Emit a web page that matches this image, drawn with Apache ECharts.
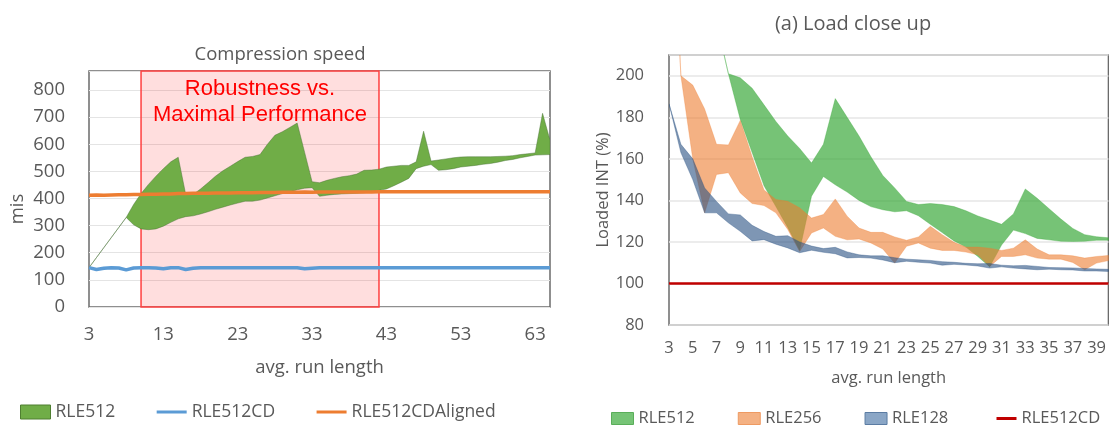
<!DOCTYPE html>
<html><head><meta charset="utf-8">
<script src="https://cdn.jsdelivr.net/npm/echarts@6/dist/echarts.min.js"></script>
<style>html,body{margin:0;padding:0;background:#fff}#c{width:1109px;height:425px}</style>
</head><body><div id="c"></div>
<script>
// ---------- Left chart: Compression speed ----------
const leftCategories = [3,4,5,6,7,8,9,10,11,12,13,14,15,16,17,18,19,20,21,22,23,24,25,26,27,28,29,30,31,32,33,34,35,36,37,38,39,40,41,42,43,44,45,46,47,48,49,50,51,52,53,54,55,56,57,58,59,60,61,62,63,64,65];
const rle512Upper = [145,182,219,256,293,330,378,418,452,482,510,535,552,416,415,435,458,482,502,519,536,552,555,562,600,633,646,662,678,570,462,458,467,474,480,484,490,504,505,508,516,519,522,522,535,648,538,542,546,550,553,554,554,554,554,555,556,558,562,565,568,714,615];
const rle512Lower = [145,182,219,256,293,330,303,288,285,288,298,312,325,333,336,343,351,360,368,376,383,390,390,394,402,410,418,424,432,438,440,408,412,415,417,418,419,421,425,430,435,447,460,474,510,519,525,504,506,510,516,519,522,526,529,534,540,544,550,555,560,561,562];
const rle512CD = [145,138,143,145,144,137,144,145,145,144,141,145,145,138,143,145,145,145,145,145,145,145,145,145,145,145,145,145,145,141,143,145,145,145,145,145,145,145,145,145,145,145,145,145,145,145,145,145,145,145,145,145,145,145,145,145,145,145,145,145,145,145,145];
const rle512CDAligned = [412,413,412,413,414,414,415,415,416,416,417,417,418,418,419,419,419,420,420,420,421,421,421,422,422,422,423,423,423,424,423,424,424,424,424,424,424,424,424,425,425,425,425,425,425,425,425,425,425,425,425,425,425,425,425,425,425,425,425,425,425,425,425];
const highlightRange = ['10','42'];

// ---------- Right chart: (a) Load close up ----------
const rightCategories = [3,4,5,6,7,8,9,10,11,12,13,14,15,16,17,18,19,20,21,22,23,24,25,26,27,28,29,30,31,32,33,34,35,36,37,38,39,40];
const r512Upper = [null,null,null,null,226,201,199,194,186,178,171,165,158,167,189,180,171,161,152,146,139.5,138,138.5,138,137,135,132.5,130.5,128.5,133.5,145.5,141,136,131,126.5,123.5,122.5,122];
const r512Lower = [null,null,null,null,226,201,179,163,147,137,127,116,142,151.5,147.5,144,140,137,135.5,134.5,135,132.6,128.5,124.5,120.5,117.5,113,108,118.5,125.7,124,121.7,121,120.3,120.2,120.3,120.8,120.8];
const r256Upper = [320,200,195.5,184,167,166.7,178.5,161,145,140.4,139.6,136.4,131.5,133.2,140.7,132.4,126.7,124.6,124.6,122.4,120.8,122.4,127.5,123.5,119.8,117.5,117.5,117,115.9,117,121,116.6,113.8,113.8,113.3,112.2,113,113.5];
const r256Lower = [320,200,160,134,152.5,153.3,143.6,138.5,137.5,134,126,115.4,124.3,126.7,122.7,121,121.4,119.5,116.6,109.8,117.9,119.5,117,115.9,115.9,115.1,113.8,108.2,113,113,113.8,112.2,111.7,111.7,110.1,106.6,109.8,111];
const r128Upper = [186.5,167,160,146,139.5,133.5,133,128,125,122.7,123,120,118,116.8,117.4,115.2,113.8,113.3,113.3,112.4,111.7,111.4,111.1,110.5,110.2,109.7,109.5,109.6,108.8,108.5,108.7,108.2,107.7,107.6,107.5,107.2,107,106.8];
const r128Lower = [186.5,163,150,134,134,129.2,125.1,120.5,121.1,118.9,117.1,114.8,116,115,114.3,112.3,112.5,112.2,111.3,110,110.7,110.2,109.8,108.8,109.2,108.9,108.4,107.4,108,107.4,107,106.6,106.9,106.6,106.5,106,106,105.8];
const r512CD = rightCategories.map(() => 100);

const FONT = 'Open Sans';
const GREY = '#595959';

function band(name, axisIdx, cats, upper, lower, fill, stroke, lw, z) {
  const first = upper.findIndex(v => v != null);
  return {
    type: 'custom', name, xAxisIndex: axisIdx, yAxisIndex: axisIdx, clip: true, z,
    itemStyle: { color: fill },
    encode: { x: 0, y: [1, 2] },
    data: cats.map((c, i) => [i, upper[i] == null ? NaN : upper[i], lower[i] == null ? NaN : lower[i]]),
    renderItem(params, api) {
      if (params.dataIndexInside !== first) return;
      const n = params.dataInsideLength;
      const top = [], bot = [];
      for (let i = 0; i < n; i++) {
        const x = api.value(0, i), u = api.value(1, i), l = api.value(2, i);
        if (isNaN(u) || isNaN(l)) continue;
        top.push(api.coord([x, u]));
        bot.push(api.coord([x, l]));
      }
      return { type: 'polygon', shape: { points: top.concat(bot.reverse()) },
        style: { fill, stroke, lineWidth: lw } };
    }
  };
}

const chart = echarts.init(document.getElementById('c'), null, { renderer: 'canvas' });
const labelStyleL = { fontFamily: FONT, fontSize: 18.5, color: GREY };
const labelStyleR = { fontFamily: FONT, fontSize: 16.5, color: GREY };
const legendTextL = { fontFamily: FONT, fontSize: 17.5, color: GREY };
const hideSym = { opacity: 0 };

chart.setOption({
  animation: false,
  backgroundColor: '#fff',
  graphic: [
    { type: 'text', x: 280, y: 55, style: { text: 'Compression speed', textAlign: 'center', textVerticalAlign: 'middle', fontFamily: FONT, fontSize: 18.5, fill: GREY } },
    { type: 'text', x: 853, y: 24, style: { text: '(a) Load close up', textAlign: 'center', textVerticalAlign: 'middle', fontFamily: FONT, fontSize: 20, fill: GREY } }
  ],
  grid: [
    { left: 89, top: 71, width: 461, height: 236, show: true, borderColor: '#6b6b6b', borderWidth: 1.5, backgroundColor: 'transparent' },
    { left: 669, top: 55, width: 442, height: 270, show: true, borderColor: '#6b6b6b', borderWidth: 1.5, backgroundColor: 'transparent' }
  ],
  xAxis: [
    { gridIndex: 0, type: 'category', data: leftCategories, boundaryGap: false,
      axisLine: { show: false }, axisTick: { show: false }, splitLine: { show: false },
      axisLabel: Object.assign({ interval: 9, margin: 18 }, labelStyleL),
      name: 'avg. run length', nameLocation: 'middle', nameGap: 51, nameTextStyle: labelStyleL },
    { gridIndex: 1, type: 'category', data: rightCategories, boundaryGap: false,
      axisLine: { show: false }, axisTick: { show: false }, splitLine: { show: false },
      axisLabel: Object.assign({ interval: 1, margin: 15 }, labelStyleR),
      name: 'avg. run length', nameLocation: 'middle', nameGap: 45, nameTextStyle: labelStyleR }
  ],
  yAxis: [
    { gridIndex: 0, type: 'value', min: 0, max: 870, interval: 100,
      axisLine: { show: false }, axisTick: { show: false },
      splitLine: { lineStyle: { color: '#e4e4e4', width: 1 } },
      axisLabel: Object.assign({ margin: 24, formatter: v => (v % 100 === 0 ? String(v) : '') }, labelStyleL),
      name: 'mis', nameLocation: 'middle', nameGap: 62,
      nameTextStyle: Object.assign({ padding: [0, 40, 0, 0] }, labelStyleL) },
    { gridIndex: 1, type: 'value', min: 80, max: 210, interval: 20,
      axisLine: { show: false }, axisTick: { show: false },
      splitLine: { lineStyle: { color: '#e6e6e6', width: 1.5 } },
      axisLabel: Object.assign({ margin: 25, formatter: v => (v % 20 === 0 && v <= 200 ? String(v) : '') }, labelStyleR),
      name: 'Loaded INT (%)', nameLocation: 'middle', nameGap: 55, nameTextStyle: labelStyleR }
  ],
  legend: [
    { left: 20, top: 403, padding: 0, itemWidth: 30, itemHeight: 14, itemGap: 40, selectedMode: false,
      textStyle: legendTextL,
      data: [
        { name: 'RLE512', icon: 'rect', itemStyle: { color: '#70AD47', borderColor: '#4f7f31', borderWidth: 1 } },
        { name: 'RLE512CD', itemStyle: hideSym, lineStyle: { color: '#5B9BD5', width: 3 } },
        { name: 'RLE512CDAligned', itemStyle: hideSym, lineStyle: { color: '#ED7D31', width: 3 } }
      ] },
    { left: 611, top: 410, padding: 0, itemWidth: 22, itemHeight: 12, itemGap: 43, selectedMode: false,
      textStyle: labelStyleR,
      data: [
        { name: 'RLE512', icon: 'rect', itemStyle: { color: '#76c476', borderColor: '#5aae5a', borderWidth: 1 } },
        { name: 'RLE256', icon: 'rect', itemStyle: { color: '#f4b183', borderColor: '#ee9a62', borderWidth: 1 } },
        { name: 'RLE128', icon: 'rect', itemStyle: { color: '#8aa6c6', borderColor: '#5b7ca3', borderWidth: 1 } }
      ] },
    { left: 995, top: 410, padding: 0, itemWidth: 20, itemHeight: 12, selectedMode: false,
      textStyle: labelStyleR,
      data: [
        { name: 'RLE512CD', itemStyle: hideSym, lineStyle: { color: '#C00000', width: 3 } }
      ] }
  ],
  series: [
    // left
    band('RLE512', 0, leftCategories, rle512Upper, rle512Lower, '#70AD47', 'rgba(70,110,50,0.55)', 0.8, 2),
    { type: 'line', name: 'RLE512CD', xAxisIndex: 0, yAxisIndex: 0, data: rle512CD, symbol: 'none', z: 3,
      lineStyle: { color: '#5B9BD5', width: 3.5 }, itemStyle: { color: '#5B9BD5' } },
    { type: 'line', name: 'RLE512CDAligned', xAxisIndex: 0, yAxisIndex: 0, data: rle512CDAligned, symbol: 'none', z: 3,
      lineStyle: { color: '#ED7D31', width: 3.5 }, itemStyle: { color: '#ED7D31' } },
    { type: 'line', name: 'highlight', xAxisIndex: 0, yAxisIndex: 0, data: [], z: 10, silent: true,
      markArea: { silent: true,
        itemStyle: { color: 'rgba(255,0,0,0.13)', borderColor: '#ff4040', borderWidth: 1.5 },
        label: { show: true, position: 'insideTop', distance: 5, formatter: 'Robustness vs.\nMaximal Performance',
          color: '#ff0000', fontSize: 22, lineHeight: 26.5, fontFamily: 'Liberation Sans' },
        data: [[{ xAxis: highlightRange[0] }, { xAxis: highlightRange[1] }]] } },
    // right
    band('RLE512', 1, rightCategories, r512Upper, r512Lower, 'rgba(60,170,60,0.7)', 'rgba(60,170,60,0.35)', 1, 2),
    band('RLE256', 1, rightCategories, r256Upper, r256Lower, 'rgba(237,125,49,0.6)', 'rgba(237,125,49,0.3)', 1, 3),
    band('RLE128', 1, rightCategories, r128Upper, r128Lower, 'rgba(40,80,130,0.6)', 'rgba(40,80,130,0.35)', 1, 4),
    { type: 'line', name: 'RLE512CD', xAxisIndex: 1, yAxisIndex: 1, data: r512CD, symbol: 'none', z: 5,
      lineStyle: { color: '#C00000', width: 2.5 }, itemStyle: { color: '#C00000' } }
  ]
});
</script></body></html>
